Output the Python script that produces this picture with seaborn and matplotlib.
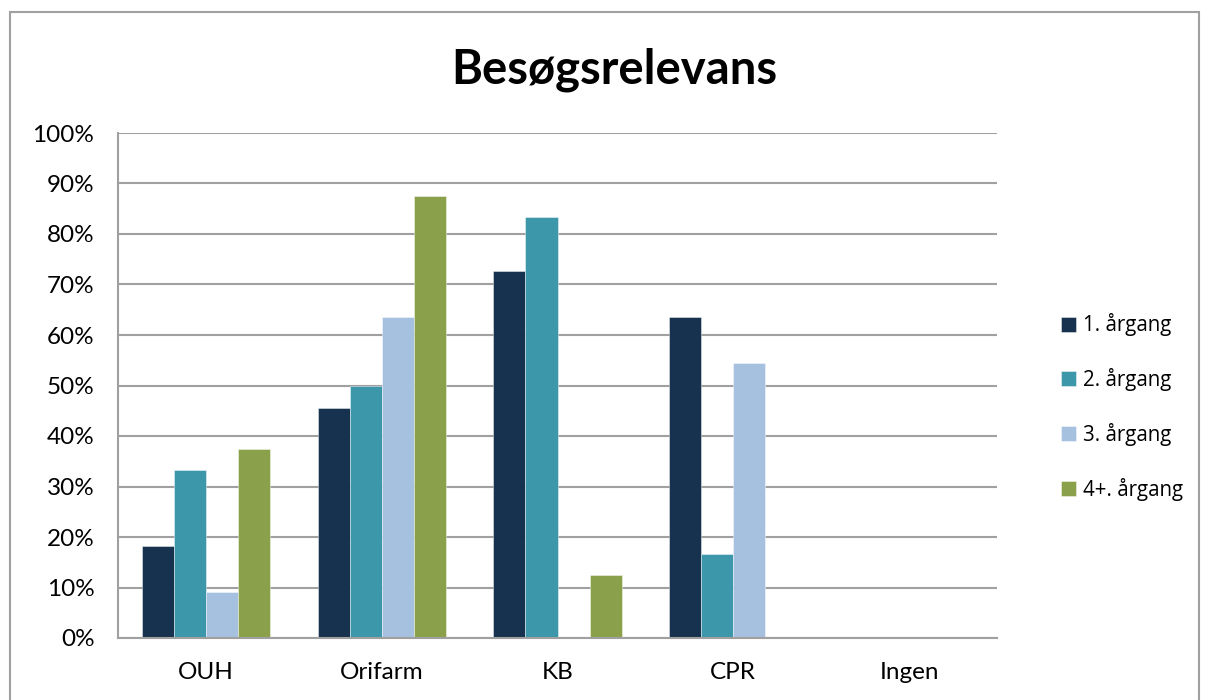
import matplotlib
matplotlib.use("Agg")
import matplotlib.pyplot as plt
import seaborn as sns
import pandas as pd
from matplotlib.patches import Rectangle
from matplotlib.ticker import FuncFormatter, MultipleLocator

categories = ["OUH", "Orifarm", "KB", "CPR", "Ingen"]
series = ["1. årgang", "2. årgang", "3. årgang", "4+. årgang"]
aargang1 = [18.2, 45.5, 72.7, 63.6, 0.0]
aargang2 = [33.3, 50.0, 83.3, 16.7, 0.0]
aargang3 = [9.1, 63.6, 0.0, 54.5, 0.0]
aargang4 = [37.5, 87.5, 12.5, 0.0, 0.0]
colors = ["#17324F", "#3D97AB", "#A6C0E0", "#8AA04A"]

rows = []
for s, vals in zip(series, [aargang1, aargang2, aargang3, aargang4]):
    for c, v in zip(categories, vals):
        rows.append({"Kategori": c, "Årgang": s, "Værdi": v})
df = pd.DataFrame(rows)

sns.set_theme(style="white")
plt.rcParams['font.family'] = ['Lato', 'DejaVu Sans']

fig = plt.figure(figsize=(12.05, 7.0), dpi=100)
ax = fig.add_axes([118/1205, 1-638/700, (997-118)/1205, (638-133)/700])

sns.barplot(data=df, x="Kategori", y="Værdi", hue="Årgang", order=categories,
            hue_order=series, palette=colors, width=0.73, gap=0, ax=ax,
            saturation=1, errorbar=None, linewidth=0.6, edgecolor="#ffffff80")

ax.set_ylim(0, 100)
ax.yaxis.set_major_locator(MultipleLocator(10))
ax.yaxis.set_major_formatter(FuncFormatter(lambda v, p: f"{int(round(v))}%"))
ax.set_axisbelow(True)
ax.yaxis.grid(True, color="#A0A0A0", linewidth=1.5)
ax.xaxis.grid(False)
ax.set_xlabel("")
ax.set_ylabel("")
for side in ["top", "right"]:
    ax.spines[side].set_visible(False)
for side in ["left", "bottom"]:
    ax.spines[side].set_color("#A0A0A0")
    ax.spines[side].set_linewidth(1.5)
ax.tick_params(axis="both", length=0, labelsize=17.5, colors="#000000")
ax.tick_params(axis="y", pad=17)
ax.tick_params(axis="x", pad=17)

leg = ax.legend(loc="center left", bbox_to_anchor=(1042/1205, 1-407/700),
                bbox_transform=fig.transFigure, frameon=False,
                prop={"family": ["Open Sans", "DejaVu Sans"], "size": 14.8},
                handlelength=0.75, handleheight=0.75, handletextpad=0.35,
                labelspacing=1.55)
for t in leg.get_texts():
    t.set_color("#000000")

fig.text(614/1205, 1-70/700, "Besøgsrelevans", ha="center", va="center",
         fontsize=34, fontweight="bold", family=["Lato", "DejaVu Sans"],
         color="#000000")

fig.patches.append(Rectangle((10/1205, -0.05), (1199-10)/1205, 1.05-12/700,
                             transform=fig.transFigure, fill=False,
                             edgecolor="#A0A0A0", linewidth=1.5))

fig.savefig("out.png", dpi=100)
